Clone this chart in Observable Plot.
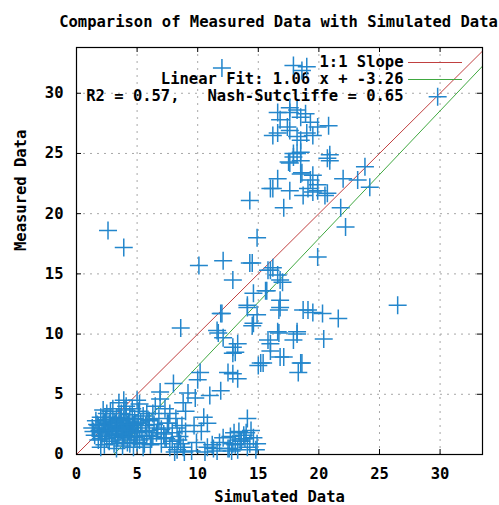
<!DOCTYPE html>
<html><head><meta charset="utf-8">
<script src="https://cdn.jsdelivr.net/npm/d3@7"></script>
<script src="https://cdn.jsdelivr.net/npm/@observablehq/plot@0.6"></script>
<style>
body{margin:0;background:#fff}
svg text{white-space:pre}
</style>
</head><body><div id="chart"></div>
<script>
const title = "Comparison of Measured Data with Simulated Data";
const xLabel = "Simulated Data";
const yLabel = "Measured Data";
const tickValues = [0, 5, 10, 15, 20, 25, 30];
const gridValues = [5, 10, 15, 20, 25, 30];
const xDomain = [0, 33.5];
const yDomain = [0, 33.8];
const legendLabels = ["1:1 Slope", "Linear Fit: 1.06 x + -3.26", "R2 = 0.57,   Nash-Sutcliffe = 0.65"];
const legendColors = ["#c04040", "#40a840"];
const fitSlope = 1.06;
const fitIntercept = -3.26;

const simulated = [
12.0,17.9,18.6,19.0,29.8,
16.6,16.8,17.6,18.2,18.9,17.6,18.5,19.3,19.9,20.8,17.4,16.6,16.2,19.0,19.5,18.5,18.2,17.6,
17.9,18.5,18.2,20.9,20.7,17.9,18.5,17.5,17.6,20.9,23.8,
16.6,18.6,18.5,19.5,19.3,22.0,23.2,16.2,17.6,19.1,19.9,19.9,20.5,20.7,19.5,18.7,24.2,16.0,
17.1,21.8,14.3,22.2,14.9,2.6,3.9,19.9,
10.1,12.1,14.3,14.5,16.0,16.2,15.8,12.9,16.6,16.8,17.0,15.6,14.6,15.7,16.8,14.1,16.7,26.5,
14.9,16.8,19.1,20.3,21.6,18.7,19.5,12.0,11.9,14.1,14.6,14.5,8.6,11.6,11.7,12.1,16.6,16.7,18.2,18.2,20.4,17.9,15.8,16.0,13.3,12.9,12.9,13.1,16.0,16.8,17.1,15.4,15.2,18.5,18.6,18.3,15.0,12.9,12.5,13.3,
10.2,10.0,8.0,6.9,9.2,9.8,11.0,11.9,8.8,10.5,10.8,7.7,8.3,14.1,3.9,5.0,
12.1,13.5,14.6,12.9,14.1,11.6,10.8,8.8,7.7,7.2,6.7,14.9,13.0,13.8,12.5,13.3,14.4,11.2,9.9,9.5,10.3,8.4,8.1,7.5,7.0,6.3,6.0,9.0,9.7,
1.3,1.5,1.6,1.8,1.9,2.0,2.1,2.2,2.3,2.4,2.5,2.6,2.7,2.8,2.9,3.0,3.0,3.1,3.2,3.3,3.4,3.5,3.5,3.6,3.7,3.8,3.8,3.9,4.0,4.0,4.1,4.2,4.3,4.4,4.5,4.6,4.7,4.8,4.9,5.0,5.1,5.2,5.3,5.4,5.5,5.6,5.7,5.8,5.9,6.0,6.2,6.4,6.6,6.8,7.0,7.3,7.6,7.9,8.2,8.5,8.7,9.0,
1.4,1.7,2.0,2.2,2.5,2.8,3.1,3.3,3.6,3.9,4.1,4.4,4.6,4.9,5.2,5.5,5.8,6.1,6.3,3.2,2.7,4.3,3.7,2.4,5.0,
6.5,7.3,6.9,
1.8,2.1,2.4,2.7,3.0,3.3,3.6,3.9,4.2,4.5,4.8,5.1,2.0,2.6,3.2,3.8,4.4,5.0,2.3,2.9,3.5,4.1,4.7,3.4,
12.7,13.1,13.6,14.0,14.3,12.6,13.4,13.9,14.8,12.8,
8.3,8.6,8.9,7.9,11.3,11.8,10.6,7.4
];
const measured = [
32.1,32.3,31.9,32.2,29.7,
28.4,27.8,28.8,28.6,28.3,28.4,28.0,27.6,27.2,27.3,27.2,26.7,26.5,26.7,26.5,26.1,26.4,26.9,
25.0,25.1,25.0,24.9,24.6,24.7,24.4,24.3,24.2,24.4,23.9,
22.9,23.4,23.3,23.2,22.8,22.9,22.8,22.1,21.9,22.1,22.4,21.9,21.5,21.7,21.8,21.5,22.2,22.1,
20.5,20.5,21.1,18.9,18.0,18.6,17.2,16.4,
15.7,16.1,15.9,15.9,15.3,15.5,15.3,14.5,14.9,14.5,14.3,13.6,13.4,13.6,12.8,12.4,12.0,12.4,
11.6,12.2,12.0,11.7,11.3,12.0,11.8,11.7,11.7,12.2,10.9,10.7,10.5,10.3,10.1,9.7,10.2,10.1,10.2,10.0,9.6,9.5,9.5,9.2,9.2,8.9,8.4,8.5,8.6,8.1,8.1,7.6,7.6,7.6,7.6,6.8,7.4,6.7,6.8,6.3,
6.8,6.2,5.9,5.2,5.1,4.7,4.9,5.3,4.3,3.1,2.6,3.4,2.2,3.0,4.5,4.5,
1.4,1.2,1.4,0.9,0.6,0.3,0.6,0.6,0.6,1.7,2.2,0.9,1.8,1.6,0.5,0.4,2.0,0.8,1.0,0.3,1.9,1.2,0.2,2.6,0.9,1.5,2.8,3.6,2.4,
2.2,1.6,2.8,1.2,2.0,3.1,1.5,2.5,0.8,1.9,3.4,2.2,1.1,2.9,1.7,2.4,3.8,0.9,2.0,3.1,1.4,2.6,4.3,1.9,3.4,0.7,2.3,2.9,1.6,3.7,2.1,1.0,2.7,3.3,1.8,2.4,0.6,3.0,1.5,2.2,3.6,1.2,2.7,1.9,3.2,0.9,2.4,1.6,2.9,2.0,1.3,2.5,1.8,3.0,2.1,1.4,2.6,1.8,3.0,1.5,2.4,1.9,
1.9,2.5,0.6,3.7,1.3,3.6,2.7,0.5,3.0,1.2,4.0,0.9,3.8,2.6,4.2,0.6,3.4,0.8,3.4,1.6,2.6,1.9,2.0,2.1,1.0,
4.0,3.8,4.6,
2.4,1.8,2.9,2.1,1.6,2.3,2.8,1.7,2.5,2.0,1.4,2.6,1.3,2.0,2.6,1.5,2.2,1.8,2.7,2.3,1.7,2.9,2.5,2.1,
1.5,0.8,1.1,1.8,0.9,0.5,1.9,1.3,0.4,0.3,
0.4,0.9,0.2,1.1,0.5,1.0,0.2,1.3
];

const points = simulated.map((s, i) => ({s, m: measured[i]}));
const oneToOne = [xDomain[0], xDomain[1]].map(v => ({x: v, y: v}));
const fitLine = [-fitIntercept / fitSlope, xDomain[1]].map(v => ({x: v, y: fitSlope * v + fitIntercept}));

const crossSymbol = {
  draw(ctx, size) {
    const h = Math.sqrt(size / Math.PI);
    ctx.moveTo(-h, 0); ctx.lineTo(h, 0);
    ctx.moveTo(0, -h); ctx.lineTo(0, h);
  }
};

const W = 499, H = 505, mL = 76, mR = 17, mT = 47, mB = 51;
const frameW = W - mL - mR, frameH = H - mT - mB;
const font = "DejaVu Sans Mono";
const fs = 15.5;
const legendRowsY = [15, 32, 49];
const txt = {fontSize: fs, fontWeight: "bold", fill: "#000", lineAnchor: "middle"};

const legendTextMarks = legendLabels.map((label, i) =>
  Plot.text([label], {frameAnchor: "top-right", dx: -79, dy: legendRowsY[i], textAnchor: "end", text: d => d, ...txt}));
const legendSampleMarks = legendColors.map((c, i) =>
  Plot.ruleY([yDomain[1]], {y: d => d, insetLeft: 332, insetRight: 20, dy: legendRowsY[i], stroke: c, strokeWidth: 1}));

const chart = Plot.plot({
  width: W, height: H,
  marginLeft: mL, marginRight: mR, marginTop: mT, marginBottom: mB,
  x: {domain: xDomain, axis: null},
  y: {domain: yDomain, axis: null},
  style: {fontFamily: font, fontWeight: "bold", fontSize: fs + "px", background: "#fff", color: "#000"},
  marks: [
    Plot.ruleX(gridValues, {x: d => d, stroke: "#a8a8a8", strokeDasharray: "2,5", strokeWidth: 1}),
    Plot.ruleY(gridValues, {y: d => d, stroke: "#a8a8a8", strokeDasharray: "2,5", strokeWidth: 1}),
    Plot.ruleX(tickValues, {x: d => d, insetTop: frameH - 5, stroke: "#000"}),
    Plot.ruleX(tickValues, {x: d => d, insetBottom: frameH - 5, stroke: "#000"}),
    Plot.ruleY(tickValues, {y: d => d, insetRight: frameW - 5, stroke: "#000"}),
    Plot.ruleY(tickValues, {y: d => d, insetLeft: frameW - 5, stroke: "#000"}),
    Plot.line(oneToOne, {x: "x", y: "y", stroke: legendColors[0], strokeWidth: 1, clip: true}),
    Plot.line(fitLine, {x: "x", y: "y", stroke: legendColors[1], strokeWidth: 1, clip: true}),
    ...legendTextMarks,
    ...legendSampleMarks,
    Plot.frame({stroke: "#000", strokeWidth: 1.2}),
    Plot.dot(points, {x: "s", y: "m", symbol: crossSymbol, r: 9, fill: "none", stroke: "#2386cc", strokeWidth: 1.5}),
    Plot.text(tickValues, {x: d => d, frameAnchor: "bottom", dy: 20, text: d => String(d), ...txt}),
    Plot.text(tickValues, {y: d => d, frameAnchor: "left", dx: -13, textAnchor: "end", text: d => String(d), ...txt}),
    Plot.text([xLabel], {frameAnchor: "bottom", dy: 43, text: d => d, ...txt}),
    Plot.text([yLabel], {frameAnchor: "left", dx: -55, rotate: -90, text: d => d, ...txt}),
    Plot.text([title], {frameAnchor: "top", dx: -1, dy: -25, text: d => d, ...txt})
  ]
});
document.getElementById("chart").appendChild(chart);
</script>
</body></html>
